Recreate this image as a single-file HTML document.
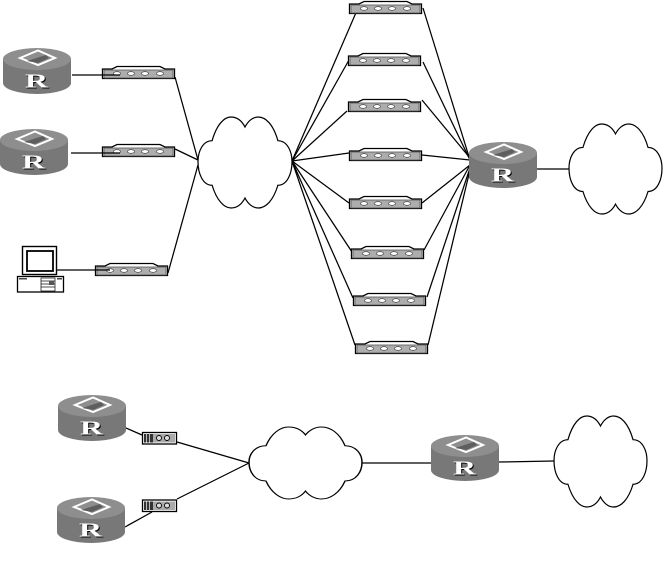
<!DOCTYPE html>
<html>
<head>
<meta charset="utf-8">
<style>
html,body{margin:0;padding:0;background:#fff;width:664px;height:565px;overflow:hidden}
svg{display:block}
.r{font-family:"Liberation Serif",serif;font-weight:bold;font-size:20px;text-anchor:middle}
.c{fill:#fff;stroke:#000;stroke-width:1.3;vector-effect:non-scaling-stroke}
.l line{stroke:#000;stroke-width:1.25}
</style>
</head>
<body>
<svg width="664" height="565" viewBox="0 0 664 565" xmlns="http://www.w3.org/2000/svg">
<defs>
<path id="cl" d="M15,26 C20,8 28,0 35,0 C42,0 47,5 50,11 C53,5 58,0 64,0 C72,0 80,8 85,26 C95,26 100,38 100,49 C100,62 95,75 85,75 C80,92 72,100 64,100 C58,100 53,95 50,89 C47,95 42,100 35,100 C28,100 20,92 15,75 C5,75 0,62 0,49 C0,38 5,26 15,26 Z"/>
<g id="rt">
<path d="M0,11 V35 A34,11 0 0 0 68,35 V11 Z" fill="#787878"/>
<ellipse cx="34" cy="11" rx="34" ry="11" fill="#8e8e8e"/>
<path d="M17,10 L35,2.500 L52,10 L35,17 Z" fill="#8e8e8e" stroke="#fff" stroke-width="2"/>
<path d="M24,13 L43,7 L46,10 L35,15 Z" fill="#5e5e5e"/>
<text transform="translate(34.500,40.500) scale(1.600,1)" class="r" fill="#000">R</text>
<text transform="translate(33.500,39.500) scale(1.600,1)" class="r" fill="#fff">R</text>
</g>
<g id="md">
<path d="M0.5,3 L10,3 L15,0.5 L58,0.5 L63,3 L72.5,3 V12.5 H0.5 Z" fill="#fff" stroke="#000" stroke-width="1.300"/>
<rect x="2" y="4" width="69" height="8" fill="#adadad" stroke="#555" stroke-width=".8"/>
<ellipse cx="15" cy="7.500" rx="3.600" ry="1.800" fill="#fff" stroke="#333" stroke-width=".6"/>
<ellipse cx="29" cy="7.500" rx="3.600" ry="1.800" fill="#fff" stroke="#333" stroke-width=".6"/>
<ellipse cx="43" cy="7.500" rx="3.600" ry="1.800" fill="#fff" stroke="#333" stroke-width=".6"/>
<ellipse cx="58" cy="7.500" rx="3.600" ry="1.800" fill="#fff" stroke="#333" stroke-width=".6"/>
</g>
<g id="sm">
<rect x="0.5" y="0.5" width="34" height="11.500" fill="#fff" stroke="#000" stroke-width="1.300"/>
<rect x="2" y="2" width="31" height="8.500" fill="#aaa"/>
<rect x="2" y="2" width="9" height="8.500" fill="#333"/>
<rect x="4" y="2" width="1" height="8.500" fill="#bbb"/>
<rect x="7" y="2" width="1" height="8.500" fill="#bbb"/>
<circle cx="17" cy="6" r="2.500" fill="#ddd" stroke="#000" stroke-width=".9"/>
<circle cx="25" cy="6" r="2.500" fill="#ddd" stroke="#000" stroke-width=".9"/>
</g>
</defs>

<g class="l">
<line x1="72" y1="75" x2="120" y2="75"/>
<line x1="71" y1="153" x2="120" y2="153"/>
<line x1="57" y1="270" x2="110" y2="270"/>
<line x1="175" y1="77" x2="198" y2="160"/>
<line x1="175" y1="149" x2="198" y2="160"/>
<line x1="168" y1="273" x2="198" y2="165"/>

<line x1="292" y1="161" x2="358" y2="8"/>
<line x1="292" y1="161" x2="349" y2="60"/>
<line x1="292" y1="161" x2="347" y2="111"/>
<line x1="292" y1="161" x2="349" y2="153"/>
<line x1="292" y1="161" x2="349" y2="203"/>
<line x1="292" y1="161" x2="352" y2="252"/>
<line x1="292" y1="161" x2="353" y2="298"/>
<line x1="292" y1="161" x2="355" y2="345"/>

<line x1="423" y1="8" x2="470" y2="160"/>
<line x1="423" y1="62" x2="470" y2="160"/>
<line x1="422" y1="100" x2="470" y2="158"/>
<line x1="422" y1="155" x2="470" y2="160"/>
<line x1="422" y1="203" x2="470" y2="165"/>
<line x1="424" y1="250" x2="470" y2="165"/>
<line x1="427" y1="297" x2="470" y2="168"/>
<line x1="428" y1="345" x2="470" y2="170"/>

<line x1="537" y1="169" x2="569" y2="169"/>
<line x1="126" y1="428" x2="142" y2="435"/>
<line x1="177" y1="442" x2="249" y2="463"/>
<line x1="125" y1="527" x2="152" y2="512"/>
<line x1="177" y1="499" x2="249" y2="463"/>
<line x1="362" y1="463" x2="431" y2="463"/>
<line x1="499" y1="462" x2="554" y2="461"/>
</g>

<use href="#cl" class="c" transform="translate(198,117) scale(.94,.91)"/>
<use href="#cl" class="c" transform="translate(569,124) scale(.93,.90)"/>
<use href="#cl" class="c" transform="translate(249,427) scale(1.13,.72)"/>
<use href="#cl" class="c" transform="translate(554,416) scale(.93,.91)"/>

<use href="#rt" transform="translate(3,48)"/>
<use href="#rt" transform="translate(0,129)"/>
<use href="#rt" transform="translate(469,142)"/>
<use href="#rt" transform="translate(58,395)"/>
<use href="#rt" transform="translate(57,497)"/>
<use href="#rt" transform="translate(431,435)"/>

<use href="#md" transform="translate(102,66)"/>
<use href="#md" transform="translate(102,144)"/>
<use href="#md" transform="translate(95,263)"/>
<use href="#md" transform="translate(349,1)"/>
<use href="#md" transform="translate(348,53)"/>
<use href="#md" transform="translate(348,99)"/>
<use href="#md" transform="translate(349,148)"/>
<use href="#md" transform="translate(349,196)"/>
<use href="#md" transform="translate(351,246)"/>
<use href="#md" transform="translate(353,293)"/>
<use href="#md" transform="translate(355,341)"/>

<g class="l">
<line x1="102" y1="75" x2="120" y2="75"/>
<line x1="102" y1="153" x2="120" y2="153"/>
<line x1="95" y1="270" x2="110" y2="270"/>
</g>

<use href="#sm" transform="translate(142,432)"/>
<use href="#sm" transform="translate(142,499.500)"/>

<!-- PC -->
<g>
<rect x="22.500" y="246.500" width="34" height="28" fill="#fff" stroke="#000" stroke-width="1.400"/>
<rect x="27" y="251" width="26" height="20" fill="#fff" stroke="#000" stroke-width="1.800"/>
<rect x="17.500" y="276.500" width="46" height="15.500" fill="#fff" stroke="#000" stroke-width="1.300"/>
<rect x="41" y="278" width="14" height="13" fill="#fff" stroke="#000" stroke-width=".7"/>
<line x1="41" y1="281" x2="55" y2="281" stroke="#000" stroke-width=".7"/>
<line x1="41" y1="284" x2="55" y2="284" stroke="#000" stroke-width=".7"/>
<line x1="41" y1="287" x2="55" y2="287" stroke="#000" stroke-width=".7"/>
<rect x="49" y="281" width="5" height="4" fill="#555"/>
<rect x="19" y="278" width="8" height="1.500" fill="#444"/>
<rect x="57" y="278" width="5" height="1.500" fill="#444"/>
</g>
</svg>
</body>
</html>
